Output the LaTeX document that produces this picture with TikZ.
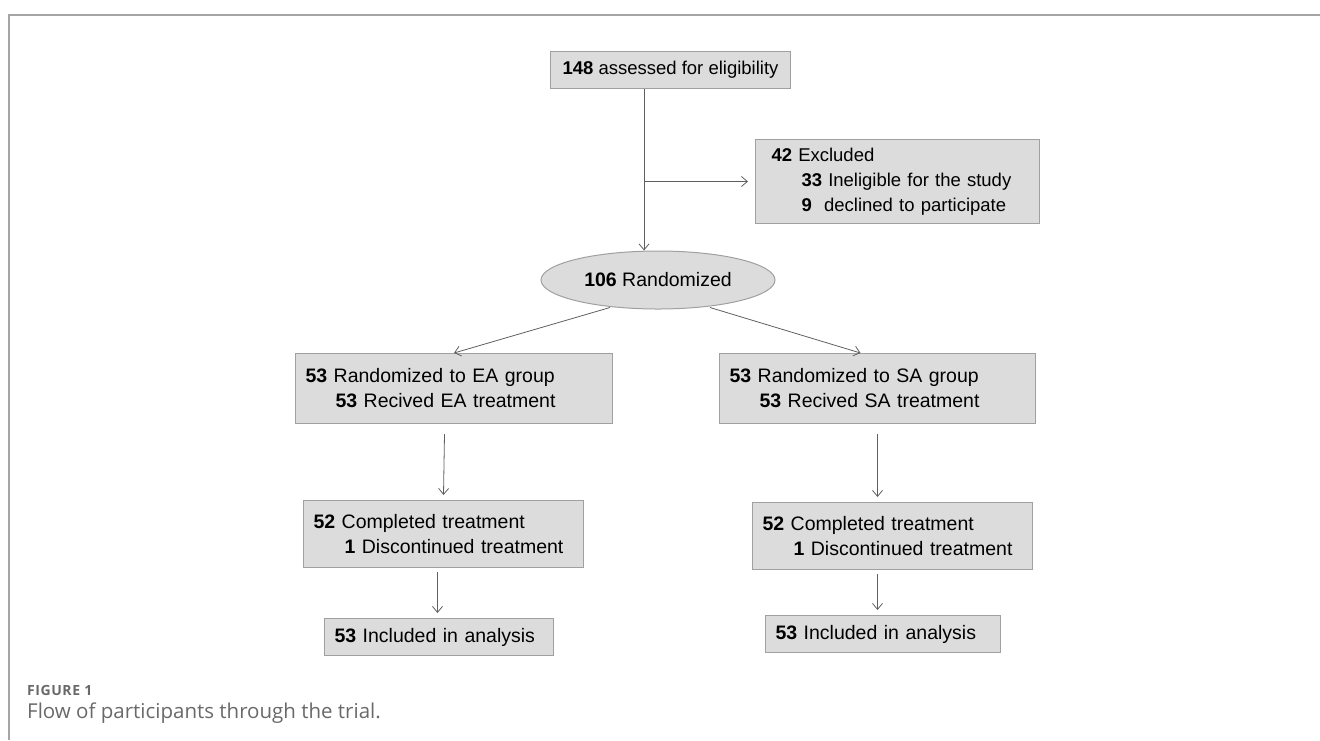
\documentclass[tikz,border=0pt]{standalone}
\usepackage{xcolor}
\usepackage{fontspec}
\setmainfont{Liberation Sans}
\newfontfamily\capfont{Open Sans}
\usepackage{tikz}
\usetikzlibrary{positioning}
\usetikzlibrary{shapes.geometric}
\usetikzlibrary{arrows.meta}

\definecolor{boxfill}{RGB}{220,220,220}
\definecolor{boxline}{RGB}{160,160,160}
\definecolor{arrline}{RGB}{95,95,95}
\definecolor{framegray}{RGB}{165,165,165}
\definecolor{capgray}{RGB}{105,105,105}

\begin{document}
\begin{tikzpicture}[x=1pt,y=1pt,%
		box/.style={draw=boxline, fill=boxfill, line width=1pt, anchor=north west,
			align=left, inner xsep=10pt, inner ysep=0pt},
		arr/.style={draw=arrline, line width=0.8pt, -{Straight Barb[length=6pt,width=10pt]}}]
		\tikzstyle{every node}=[font=\fontsize{19.5}{25}\selectfont]
		\useasboundingbox (0,0) rectangle (1320,-740);
		\draw[framegray, line width=1.2pt] (9,-740) -- (9,-15) -- (1320,-15);

		\node[box, align=center, minimum width=240pt, minimum height=37pt,
			font=\fontsize{18.5}{24}\selectfont] (assessed) at (550,-51)
			{\textbf{148} assessed for eligibility};
		\node[box, inner xsep=16pt, text width=252pt, minimum height=84pt,
			font=\fontsize{18.5}{25}\selectfont] (excl) at (755,-139)
			{\textbf{42} Excluded\\
			\hspace*{30pt}\textbf{33} Ineligible for the study\\
			\hspace*{30pt}\textbf{9}\ \ declined to participate};
		\node[ellipse, draw=boxline, fill=boxfill, line width=1pt, inner xsep=-10pt, inner ysep=0pt,
			minimum width=234pt, minimum height=58pt] (rand) at (658,-280)
			{\textbf{106} Randomized\hspace{32pt}};

		\node[box, text width=297pt, minimum height=70pt] (eaone) at (295,-353)
			{\textbf{53} Randomized to EA group\\
			\hspace*{30pt}\textbf{53} Recived EA treatment};
		\node[box, text width=296pt, minimum height=70pt] (saone) at (719,-353)
			{\textbf{53} Randomized to SA group\\
			\hspace*{30pt}\textbf{53} Recived SA treatment};
		\node[box, text width=260pt, minimum height=67pt] (eatwo) at (303,-500)
			{\textbf{52} Completed treatment\\
			\hspace*{31pt}\textbf{1} Discontinued treatment};
		\node[box, text width=260pt, minimum height=67pt] (satwo) at (752,-502)
			{\textbf{52} Completed treatment\\
			\hspace*{31pt}\textbf{1} Discontinued treatment};
		\node[box, text width=209pt, minimum height=37pt] (eathree) at (324,-618)
			{\textbf{53} Included in analysis};
		\node[box, text width=215pt, minimum height=37pt] (sathree) at (765,-615)
			{\textbf{53} Included in analysis};

		% connectors
		\coordinate (split) at (644,0);
		\draw[arr] (split |- assessed.south) -- (split |- rand.north);
		\draw[arr] (split |- excl.west) -- ([xshift=-7pt]excl.west);
		\draw[arr] ([xshift=-48pt,yshift=2pt]rand.south) -- (eaone.north);
		\draw[arr] ([xshift=52pt,yshift=2pt]rand.south) -- ([xshift=-17pt]saone.north);
		\draw[arr] ([xshift=-9.5pt,yshift=-10pt]eaone.south) -- ([yshift=5pt]eatwo.north);
		\draw[arr] ([xshift=-6pt,yshift=-4pt]eatwo.south) -- ([xshift=-1.5pt,yshift=5pt]eathree.north);
		\draw[arr] ([yshift=-10pt]saone.south) -- ([yshift=5pt]saone.south |- satwo.north);
		\draw[arr] ([yshift=-4pt]saone.south |- satwo.south) -- ([yshift=5pt]saone.south |- sathree.north);

		\node[anchor=west, inner sep=0pt, text=capgray,
			font=\capfont\addfontfeature{LetterSpace=4}\bfseries\fontsize{14}{16}\selectfont] (figlabel) at (27,-690)
			{FIGURE 1};
		\node[anchor=west, inner sep=0pt, text=capgray, font=\capfont\fontsize{20.5}{22}\selectfont] (figtext) at (27,-713)
			{Flow of participants through the trial.};
\end{tikzpicture}
\end{document}
